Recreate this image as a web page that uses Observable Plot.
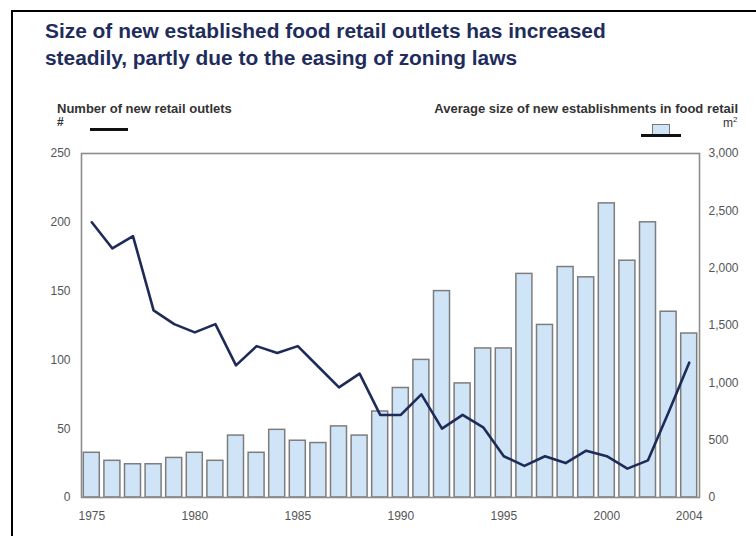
<!DOCTYPE html>
<html>
<head>
<meta charset="utf-8">
<script src="https://cdn.jsdelivr.net/npm/d3@7"></script>
<script src="https://cdn.jsdelivr.net/npm/@observablehq/plot@0.6"></script>
<style>
  html, body { margin: 0; padding: 0; background: #fff; }
  body { width: 756px; height: 536px; overflow: hidden; position: relative; font-family: "Liberation Sans", Arial, sans-serif; }
  #border { position: absolute; left: 11px; top: 10px; width: 900px; height: 700px; border-left: 2.5px solid #000; border-top: 2.5px solid #000; }
  #title { position: absolute; left: 45px; top: 17px; font-size: 20.9px; font-weight: bold; color: #1f2d5c; line-height: 27px; white-space: nowrap; }
  .leg { position: absolute; font-size: 13px; font-weight: bold; color: #333; line-height: 13px; white-space: nowrap; }
  .unit { position: absolute; font-size: 12px; color: #333; line-height: 12px; }
  #chart { position: absolute; left: 0; top: 140px; }
</style>
</head>
<body>
<div id="border"></div>
<div id="title">Size of new established food retail outlets has increased<br>steadily, partly due to the easing of zoning laws</div>
<div class="leg" style="left:57px; top:101.5px;">Number of new retail outlets</div>
<div class="unit" style="left:57px; top:116px; font-weight:bold;">#</div>
<div style="position:absolute; left:90px; top:128px; width:38px; height:3px; background:#111;"></div>
<div class="leg" style="right:18px; top:101.5px;">Average size of new establishments in food retail</div>
<div class="unit" style="left:723px; top:117px;">m<sup style="font-size:8px; line-height:0;">2</sup></div>
<div style="position:absolute; left:651.5px; top:123.5px; width:16px; height:9px; background:#cfe4f7; border:1.5px solid #777;"></div>
<div style="position:absolute; left:641px; top:133.5px; width:40px; height:3px; background:#111;"></div>
<div id="chart"></div>
<script>
// Data
const years = [1975, 1976, 1977, 1978, 1979, 1980, 1981, 1982, 1983, 1984,
               1985, 1986, 1987, 1988, 1989, 1990, 1991, 1992, 1993, 1994,
               1995, 1996, 1997, 1998, 1999, 2000, 2001, 2002, 2003, 2004];
// Number of new retail outlets (left axis, #)
const outlets = [200, 181, 190, 136, 126, 120, 126, 96, 110, 105,
                 110, 95, 80, 90, 60, 60, 75, 50, 60, 51,
                 30, 23, 30, 25, 34, 30, 21, 27, 62, 98];
// Average size of new establishments in food retail (right axis, m2)
const sizes = [390, 320, 290, 290, 345, 390, 320, 540, 390, 590,
               495, 475, 620, 540, 750, 955, 1200, 1800, 995, 1300,
               1300, 1950, 1505, 2010, 1920, 2565, 2065, 2400, 1620, 1430];
// Tick labels
const leftTicks = [0, 50, 100, 150, 200, 250];
const rightTicks = [0, 500, 1000, 1500, 2000, 2500, 3000];
const xTicks = [1975, 1980, 1985, 1990, 1995, 2000, 2004];

const leftMax = 250, rightMax = 3000;
const ratio = rightMax / leftMax;

const data = years.map((year, i) => ({year, outlets: outlets[i], size: sizes[i]}));

const chart = Plot.plot({
  width: 756,
  height: 396,
  marginLeft: 81,
  marginRight: 57,
  marginTop: 13,
  marginBottom: 39,
  style: {fontFamily: '"Liberation Sans", Arial, sans-serif', fontSize: "12px", color: "#555", background: "transparent", overflow: "visible"},
  x: {type: "band", domain: years, padding: 0, round: false},
  y: {domain: [0, leftMax]},
  marks: [
    Plot.barY(data, {x: "year", y: d => d.size / ratio, fill: "#cfe4f7", stroke: "#7d7d7d", strokeWidth: 1.5, insetLeft: 2.3, insetRight: 2.3}),
    Plot.line(data, {x: "year", y: "outlets", stroke: "#1e2b58", strokeWidth: 2.6, strokeLinejoin: "round"}),
    Plot.frame({stroke: "#8c8c8c", strokeWidth: 1.6}),
    Plot.axisY({anchor: "left", ticks: leftTicks, tickSize: 0, tickPadding: 11, label: null}),
    Plot.axisY({anchor: "right", ticks: rightTicks.map(v => v / ratio), tickSize: 0, tickPadding: 9, label: null,
                tickFormat: v => d3.format(",")(Math.round(v * ratio))}),
    Plot.axisX({ticks: xTicks, tickSize: 0, tickPadding: 14, label: null, tickFormat: d => String(d)})
  ]
});
document.getElementById("chart").appendChild(chart);
</script>
</body>
</html>
